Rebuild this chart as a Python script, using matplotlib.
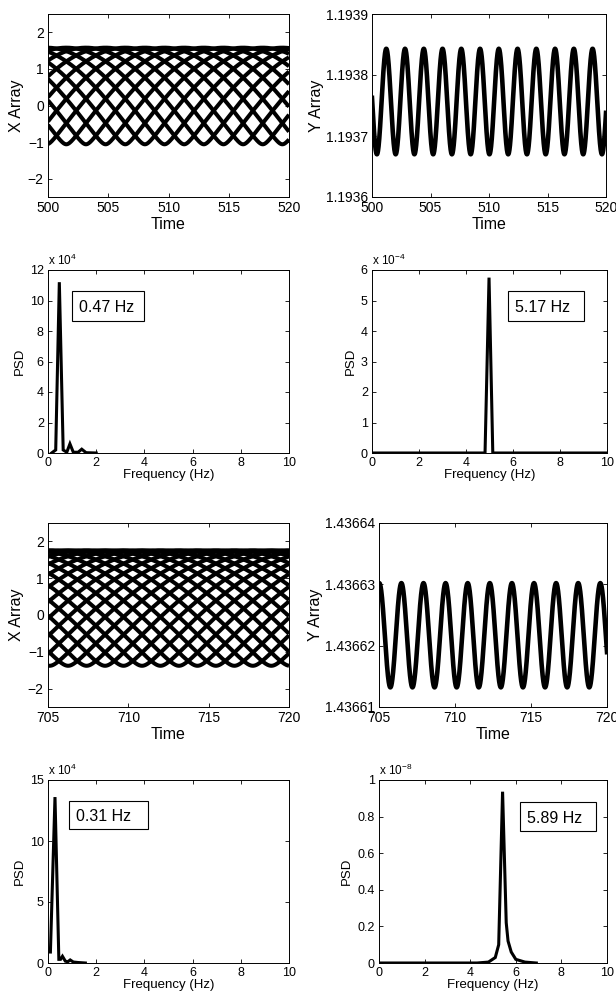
import numpy as np
import matplotlib
matplotlib.use("Agg")
import matplotlib.pyplot as plt
from matplotlib.ticker import FormatStrFormatter
from matplotlib.patches import Rectangle

plt.rcParams['font.family'] = ['Liberation Sans', 'DejaVu Sans']
plt.rcParams['mathtext.fontset'] = 'custom'
plt.rcParams['mathtext.rm'] = 'Liberation Sans'
plt.rcParams['mathtext.it'] = 'Liberation Sans'
plt.rcParams['axes.linewidth'] = 0.7

W, H = 616, 999

# ---------------- data ----------------
# Panel A: X Array, 500-520 s  (family of phase-shifted waves)
xa_time_range = [500, 520]
xa_troughs = [501.52, 503.15, 504.78, 506.41, 508.04, 509.67,
              511.30, 512.93, 514.56, 516.19, 517.82, 519.45]
xa_period = 19.56
xa_low, xa_high = -1.06, 1.58

# Panel B: Y Array, 500-520 s
ya_time_range = [500, 520]
ya_first_peak = 501.22
ya_period = 1.603
ya_max, ya_min = 1.193843, 1.193670

# Panel C: PSD of X (first window)
pc_freq = [0.15, 0.32, 0.47, 0.63, 0.78, 0.91, 1.05, 1.25, 1.40, 1.58, 2.0]
pc_psd = [0.0, 0.2, 11.2, 0.2, 0.05, 0.6, 0.05, 0.05, 0.25, 0.02, 0.0]   # x 1e4
pc_label = "0.47 Hz"

# Panel D: PSD of Y (first window)
pd_freq = [0.0, 4.81, 4.98, 5.14, 10.0]
pd_psd = [0.0, 0.0, 5.75, 0.0, 0.0]                              # x 1e-4
pd_label = "5.17 Hz"

# Panel E: X Array, 705-720 s
xe_time_range = [705, 720]
xe_troughs = [705.10, 706.25, 707.40, 708.55, 709.70, 710.85, 712.00,
              713.15, 714.30, 715.45, 716.60, 717.75, 718.90, 720.05,
              721.20, 722.35, 723.50, 724.65, 725.80, 726.95]
xe_period = 23.0
xe_low, xe_high = -1.38, 1.76

# Panel F: Y Array, 705-720 s
yf_time_range = [705, 720]
yf_first_peak = 705.02
yf_period = 1.454
yf_max, yf_min = 1.4366302, 1.4366132

# Panel G: PSD of X (second window)
pg_freq = [0.10, 0.29, 0.45, 0.52, 0.60, 0.72, 0.82, 0.92, 1.05, 1.25, 1.55]
pg_psd = [0.9, 13.6, 0.3, 0.3, 0.55, 0.15, 0.1, 0.25, 0.08, 0.04, 0.0]   # x 1e4
pg_label = "0.31 Hz"

# Panel H: PSD of Y (second window)
ph_freq = [0.1, 4.3, 4.8, 5.1, 5.25, 5.42, 5.58, 5.66, 5.80, 6.0, 6.4, 6.9]
ph_psd = [0.0, 0.0, 0.005, 0.03, 0.10, 0.936, 0.22, 0.12, 0.06, 0.02, 0.005, 0.0]  # x 1e-8
ph_label = "5.89 Hz"

# ---------------- helpers ----------------
def axes_px(fig, left, right, top, bottom):
    return fig.add_axes([left / W, 1 - bottom / H, (right - left) / W, (bottom - top) / H])

def style(ax, fs):
    ax.tick_params(direction='in', top=True, right=True, length=3, width=0.6,
                   labelsize=fs, pad=3)

def xwave(t, tk, period, lo, hi, eps=0.06):
    s = np.abs(np.sin(np.pi * (t - tk) / period))
    s = (np.sqrt(s ** 2 + eps ** 2) - eps) / (np.sqrt(1 + eps ** 2) - eps)
    return lo + (hi - lo) * s

def xarray_panel(ax, trange, troughs, period, lo, hi, xticks):
    t = np.linspace(trange[0], trange[1], 3000)
    for tk in troughs:
        ax.plot(t, xwave(t, tk, period, lo, hi), color='black', lw=2.9,
                solid_capstyle='butt')
    ax.set_xlim(trange)
    ax.set_ylim(-2.5, 2.5)
    ax.set_yticks([-2, -1, 0, 1, 2])
    ax.set_xticks(xticks)
    ax.set_xlabel('Time', fontsize=11.5, labelpad=1)
    ax.set_ylabel('X Array', fontsize=11.5, labelpad=3)
    style(ax, 10)

def yarray_panel(ax, trange, peak, period, ymax, ymin, ylim, yticks, fmt, xticks):
    t = np.linspace(trange[0], trange[1], 3000)
    c = 0.5 * (ymax + ymin)
    a = 0.5 * (ymax - ymin)
    ax.plot(t, c + a * np.cos(2 * np.pi * (t - peak) / period), color='black', lw=3.3)
    ax.set_xlim(trange)
    ax.set_ylim(ylim)
    ax.set_yticks(yticks)
    ax.yaxis.set_major_formatter(FormatStrFormatter(fmt))
    ax.set_xticks(xticks)
    ax.set_xlabel('Time', fontsize=11.5, labelpad=1)
    ax.set_ylabel('Y Array', fontsize=11.5, labelpad=1)
    style(ax, 10)

def psd_panel(ax, freq, psd, ylim, yticks, expo, label, box):
    ax.plot(freq, psd, color='black', lw=2.2, solid_joinstyle='miter')
    ax.set_xlim(0, 10)
    ax.set_ylim(ylim)
    ax.set_xticks([0, 2, 4, 6, 8, 10])
    ax.set_yticks(yticks)
    ax.yaxis.set_major_formatter(plt.FuncFormatter(lambda v, p: ('%g' % v)))
    ax.set_xlabel('Frequency (Hz)', fontsize=9.5, labelpad=0)
    ax.set_ylabel('PSD', fontsize=9.5, labelpad=3)
    style(ax, 9)
    ax.text(0.0, 1.012, r'x 10$^{%s}$' % expo, transform=ax.transAxes,
            fontsize=8.5, ha='left', va='bottom')
    x0, x1, y0, y1 = box
    ax.add_patch(Rectangle((x0, y0), x1 - x0, y1 - y0, transform=ax.transAxes,
                           fc='white', ec='black', lw=0.8, zorder=5))
    ax.text(x0 + 0.028, 0.5 * (y0 + y1), label, transform=ax.transAxes,
            fontsize=11.5, ha='left', va='center_baseline', zorder=6)

fig = plt.figure(figsize=(W / 100, H / 100), dpi=100)

ax1 = axes_px(fig, 48, 289, 14, 197)
xarray_panel(ax1, xa_time_range, xa_troughs, xa_period, xa_low, xa_high,
             [500, 505, 510, 515, 520])

ax2 = axes_px(fig, 372, 606, 14, 197)
yarray_panel(ax2, ya_time_range, ya_first_peak, ya_period, ya_max, ya_min,
             (1.1936, 1.1939), [1.1936, 1.1937, 1.1938, 1.1939], '%.4f',
             [500, 505, 510, 515, 520])

ax3 = axes_px(fig, 48, 289, 270, 453)
psd_panel(ax3, pc_freq, pc_psd, (0, 12), [0, 2, 4, 6, 8, 10, 12], '4',
          pc_label, (0.10, 0.40, 0.72, 0.887))

ax4 = axes_px(fig, 372, 607, 270, 453)
psd_panel(ax4, pd_freq, pd_psd, (0, 6), [0, 1, 2, 3, 4, 5, 6], '-4',
          pd_label, (0.58, 0.90, 0.72, 0.885))

ax5 = axes_px(fig, 48, 289, 523, 707)
xarray_panel(ax5, xe_time_range, xe_troughs, xe_period, xe_low, xe_high,
             [705, 710, 715, 720])

ax6 = axes_px(fig, 379, 607, 523, 707)
yarray_panel(ax6, yf_time_range, yf_first_peak, yf_period, yf_max, yf_min,
             (1.43661, 1.43664), [1.43661, 1.43662, 1.43663, 1.43664], '%.5f',
             [705, 710, 715, 720])

ax7 = axes_px(fig, 48, 289, 780, 963)
psd_panel(ax7, pg_freq, pg_psd, (0, 15), [0, 5, 10, 15], '4',
          pg_label, (0.087, 0.414, 0.73, 0.885))

ax8 = axes_px(fig, 379, 607, 780, 963)
psd_panel(ax8, ph_freq, ph_psd, (0, 1), [0, 0.2, 0.4, 0.6, 0.8, 1], '-8',
          ph_label, (0.62, 0.952, 0.723, 0.878))

fig.savefig('out.png', dpi=100)
